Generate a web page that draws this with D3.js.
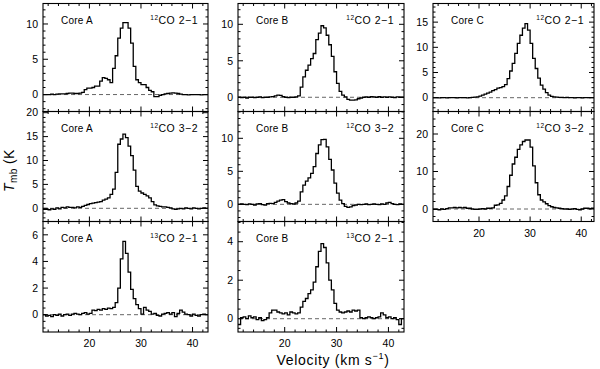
<!DOCTYPE html>
<html>
<head>
<meta charset="utf-8">
<script src="https://cdn.jsdelivr.net/npm/d3@7"></script>
<style>
  body { margin: 0; background: #fff; }
  svg { display: block; font-family: "Liberation Sans", Arial, Helvetica, sans-serif; }
</style>
</head>
<body>
<div id="chart"></div>
<script>
// channel edges (km/s), 0.5 km/s channels
const velocityEdges = [11, 11.5, 12, 12.5, 13, 13.5, 14, 14.5, 15, 15.5, 16, 16.5, 17, 17.5, 18, 18.5,
  19, 19.5, 20, 20.5, 21, 21.5, 22, 22.5, 23, 23.5, 24, 24.5, 25, 25.5, 26, 26.5,
  27, 27.5, 28, 28.5, 29, 29.5, 30, 30.5, 31, 31.5, 32, 32.5, 33, 33.5, 34, 34.5,
  35, 35.5, 36, 36.5, 37, 37.5, 38, 38.5, 39, 39.5, 40, 40.5, 41, 41.5, 42, 42.5, 43];

// Tmb (K) per channel
const coreA_12co21 = [0, 0, 0, 0.05, 0, 0.05, 0.1, 0.1,
  0.1, 0.15, 0.2, 0.2, 0.15, 0.15, 0.2, 0.3,
  0.7, 0.9, 0.9, 1.0, 1.2, 1.2, 1.9, 2.4,
  2.3, 2.1, 1.7, 3.7, 5.5, 8.0, 9.4, 10.2,
  10.2, 9.4, 7.3, 4.0, 2.1, 1.7, 1.4, 1.4,
  1.0, 0.6, 0.4, -0.3, -0.3, -0.1, 0, 0.1,
  0.15, 0.2, 0.25, 0.2, 0.15, 0.05, 0, 0,
  -0.05, 0, 0, 0, 0, -0.05, 0, 0];

const coreA_12co32 = [-0.2, -0.2, -0.3, -0.1, -0.2, 0.1, -0.1, 0.2,
  0.1, 0.3, 0.2, 0.2, 0.1, 0.3, 0.2, 0.4,
  0.6, 0.8, 1.0, 1.1, 1.2, 1.3, 1.4, 1.7,
  1.9, 2.2, 2.9, 4.0, 7.5, 13.4, 14.5, 15.5,
  14.8, 13.0, 11.0, 8.0, 4.6, 3.6, 3.2, 2.9,
  2.6, 2.2, 1.4, 0.7, 0.5, 0.4, 0.3, 0.3,
  0.2, 0.1, -0.1, -0.2, -0.1, 0, -0.1, 0.1,
  0, -0.1, 0.1, 0, -0.1, 0, 0.1, 0];

const coreA_13co21 = [0, -0.1, -0.05, -0.15, 0, -0.05, 0.05, -0.1,
  0, 0.05, -0.05, 0.05, 0.1, 0.05, 0, 0.1,
  0.15, 0.05, 0.1, 0.35, 0.3, 0.4, 0.35, 0.45,
  0.4, 0.5, 0.45, 0.55, 0.9, 2.0, 4.2, 5.5,
  4.6, 3.2, 1.9, 1.2, 0.75, 0.45, 0.05, 0.55,
  0.35, 0.25, 0.05, 0.1, -0.05, -0.1, 0.05, 0.1,
  0.15, 0.05, 0.15, -0.15, 0.1, 0.35, 0.2, 0.05,
  0, -0.1, 0.05, -0.05, -0.1, 0, 0.05, 0];

const coreB_12co21 = [0, -0.05, 0, -0.1, 0, 0, -0.05, 0,
  0.05, -0.05, 0, 0, 0.05, 0.1, 0.2, 0.3,
  0.25, 0.1, 0, -0.05, 0, 0, 0.05, 0.2,
  1.4, 2.8, 3.7, 4.4, 5.3, 6.0, 7.9, 8.8,
  9.8, 9.5, 8.5, 7.2, 5.6, 3.5, 1.9, 0.8,
  0.3, 0.05, -0.3, -0.4, -0.4, -0.35, -0.2, -0.1,
  0, 0.05, 0, 0.1, 0.05, 0, 0.1, 0,
  0.05, 0, 0.05, 0, -0.05, 0.05, 0, 0];

const coreB_12co32 = [0, 0.05, 0, -0.05, 0.05, 0, -0.1, 0.05,
  0.1, -0.05, -0.1, 0.1, 0.15, 0.1, 0.3, 0.5,
  0.65, 0.7, 0.4, 0.2, 0.1, 0.05, 0.2, 0.5,
  1.9, 2.9, 3.5, 4.0, 4.7, 5.7, 7.7, 9.0,
  9.8, 9.85, 8.7, 6.8, 5.2, 3.2, 1.7, 0.65,
  0.1, -0.3, -0.45, -0.4, -0.2, -0.1, 0, -0.05,
  0, 0.05, -0.05, 0, 0.05, 0, -0.05, 0.05,
  0, 0.2, 0.3, 0.1, 0, -0.05, 0.05, 0];

const coreB_13co21 = [-0.3, 0.05, 0.1, 0, 0.15, 0.05, 0.1, -0.05,
  0.05, -0.1, -0.05, 0.05, 0.3, 0.45, 0.45, 0.35,
  0.3, 0.25, 0.3, 0.2, 0.35, 0.3, 0.25, 0.3,
  0.6, 0.9, 1.05, 1.3, 1.5, 1.9, 2.7, 3.5,
  3.9, 3.7, 2.9, 2.0, 1.5, 0.8, 0.45, 0.35,
  0.3, 0.35, 0.4, 0.35, 0.45, 0.4, 0.45, 0.05,
  0, 0.05, 0.1, 0.05, 0, 0.05, 0.1, 0.3,
  0.2, 0.05, 0.1, 0, 0.05, -0.05, -0.3, 0];

const coreC_12co21 = [0, 0, -0.05, 0, 0, -0.05, 0, 0,
  0, -0.05, 0, 0, 0, -0.05, 0, 0.05,
  0.1, 0.15, 0.3, 0.5, 0.7, 0.9, 1.1, 1.4,
  1.6, 1.9, 2.0, 2.2, 2.6, 3.8, 5.3, 6.8,
  8.8, 10.8, 12.4, 13.8, 14.7, 13.4, 10.8, 7.8,
  5.8, 3.9, 2.5, 1.7, 1.0, 0.5, 0.25, 0.15,
  0.1, 0.05, 0.05, 0, 0.05, 0, 0, -0.05,
  0, 0, -0.05, 0, 0, 0, 0, 0];

const coreC_12co32 = [-0.1, -0.1, -0.2, 0, -0.1, 0.1, 0.3, 0.3,
  0.4, 0.3, 0.4, 0.3, 0.4, 0.2, 0.2, 0,
  -0.1, -0.1, 0, 0.1, 0, 0.2, 0.2, 0.3,
  1.0, 1.1, 1.5, 2.4, 3.5, 6.0, 9.0, 12.0,
  13.8, 15.9, 17.1, 18.0, 18.4, 18.4, 16.5, 11.5,
  7.0, 3.8, 2.4, 1.9, 1.4, 0.9, 0.6, 0.4,
  0.3, 0.2, 0.1, 0, 0, -0.1, 0, 0.1,
  -0.1, -0.2, 0, 0.2, 0.2, 0.1, 0.2, 0.1];

const xMajorTicks = [20, 30, 40];

// panel layout
const colX = [[43, 208], [238, 404], [433, 594]];
const rowY = [[3.5, 111.5], [111.5, 221.5], [221.5, 332]];
const colVel = [[11, 43], [11, 43], [11, 42.5]];

const panels = [
  {col: 0, row: 0, core: "Core A", iso: "12", trans: "CO 2\u22121", data: coreA_12co21, y: [-2.4, 12.9], major: [0, 5, 10], minor: 1},
  {col: 0, row: 1, core: "Core A", iso: "12", trans: "CO 3\u22122", data: coreA_12co32, y: [-2.76, 20.25], major: [0, 5, 10, 15, 20], minor: 1},
  {col: 0, row: 2, core: "Core A", iso: "13", trans: "CO 2\u22121", data: coreA_13co21, y: [-1.3, 7.0], major: [0, 2, 4, 6], minor: 0.5, xlab: true},
  {col: 1, row: 0, core: "Core B", iso: "12", trans: "CO 2\u22121", data: coreB_12co21, y: [-1.95, 12.85], major: [0, 5, 10], minor: 1},
  {col: 1, row: 1, core: "Core B", iso: "12", trans: "CO 3\u22122", data: coreB_12co32, y: [-2.6, 14.06], major: [0, 5, 10], minor: 1},
  {col: 1, row: 2, core: "Core B", iso: "13", trans: "CO 2\u22121", data: coreB_13co21, y: [-0.69, 5.05], major: [0, 2, 4], minor: 0.5, xlab: true},
  {col: 2, row: 0, core: "Core C", iso: "12", trans: "CO 2\u22121", data: coreC_12co21, y: [-2.74, 18.7], major: [0, 5, 10, 15], minor: 1},
  {col: 2, row: 1, core: "Core C", iso: "12", trans: "CO 3\u22122", data: coreC_12co32, y: [-3.33, 26], major: [0, 10, 20], minor: 2, xlab: true}
];

const width = 600, height = 369;
const svg = d3.select("#chart").append("svg")
  .attr("width", width)
  .attr("height", height);

const majorLen = 5, minorLen = 2.5;

panels.forEach((p, idx) => {
  const [x0, x1] = colX[p.col];
  const [y0, y1] = rowY[p.row];
  const x = d3.scaleLinear().domain(colVel[p.col]).range([x0, x1]);
  const y = d3.scaleLinear().domain(p.y).range([y1, y0]);
  const g = svg.append("g");

  const clipId = "clip" + idx;
  svg.append("clipPath").attr("id", clipId)
    .append("rect").attr("x", x0).attr("y", y0).attr("width", x1 - x0).attr("height", y1 - y0);

  // zero line (dashed)
  g.append("line")
    .attr("x1", x0).attr("x2", x1)
    .attr("y1", y(0)).attr("y2", y(0))
    .attr("stroke", "#555").attr("stroke-width", 0.9)
    .attr("stroke-dasharray", "4,3");

  // spectrum as histogram steps
  const pts = p.data.map((v, i) => [velocityEdges[i], v]);
  pts.push([velocityEdges[p.data.length], p.data[p.data.length - 1]]);
  const line = d3.line()
    .x(d => x(d[0])).y(d => y(d[1]))
    .curve(d3.curveStepAfter);
  g.append("path")
    .datum(pts)
    .attr("clip-path", `url(#${clipId})`)
    .attr("d", line)
    .attr("fill", "none")
    .attr("stroke", "#000")
    .attr("stroke-width", 1.3)
    .attr("stroke-linejoin", "miter");

  // frame
  g.append("rect")
    .attr("x", x0).attr("y", y0)
    .attr("width", x1 - x0).attr("height", y1 - y0)
    .attr("fill", "none").attr("stroke", "#000").attr("stroke-width", 1.1);

  // x ticks (top and bottom, inward)
  const xMinor = d3.range(12, 43.01, 2).filter(v => !xMajorTicks.includes(v) && v <= colVel[p.col][1]);
  const xt = xMajorTicks.map(v => ({v, len: majorLen})).concat(xMinor.map(v => ({v, len: minorLen})));
  xt.forEach(t => {
    g.append("line").attr("x1", x(t.v)).attr("x2", x(t.v))
      .attr("y1", y1).attr("y2", y1 - t.len).attr("stroke", "#000");
    g.append("line").attr("x1", x(t.v)).attr("x2", x(t.v))
      .attr("y1", y0).attr("y2", y0 + t.len).attr("stroke", "#000");
  });

  // y ticks (left and right, inward)
  const lo = Math.ceil(p.y[0] / p.minor) * p.minor;
  const yAll = d3.range(lo, p.y[1] + 1e-6, p.minor);
  yAll.forEach(v => {
    const isMajor = p.major.some(m => Math.abs(m - v) < 1e-6);
    const len = isMajor ? majorLen : minorLen;
    g.append("line").attr("x1", x0).attr("x2", x0 + len)
      .attr("y1", y(v)).attr("y2", y(v)).attr("stroke", "#000");
    g.append("line").attr("x1", x1).attr("x2", x1 - len)
      .attr("y1", y(v)).attr("y2", y(v)).attr("stroke", "#000");
  });

  // y tick labels
  p.major.forEach(v => {
    g.append("text")
      .attr("x", x0 - 5).attr("y", y(v)).attr("dy", "0.36em")
      .attr("text-anchor", "end")
      .style("font-size", "10.5px")
      .text(v);
  });

  // x tick labels
  if (p.xlab) {
    xMajorTicks.forEach(v => {
      g.append("text")
        .attr("x", x(v)).attr("y", y1 + 15)
        .attr("text-anchor", "middle")
        .style("font-size", "10.5px")
        .text(v);
    });
  }

  // labels inside panel
  g.append("text")
    .attr("x", x0 + 18).attr("y", y0 + 20)
    .style("font-size", "10px")
    .style("letter-spacing", "0.2px")
    .text(p.core);

  const tr = g.append("text")
    .attr("x", x1 - 10).attr("y", y0 + 20)
    .attr("text-anchor", "end")
    .style("font-size", "10.5px")
    .style("letter-spacing", "0.5px");
  tr.append("tspan").attr("dy", -4).style("font-size", "6.5px").text(p.iso);
  tr.append("tspan").attr("dy", 4).text(p.trans);
});

// axis titles
const xTitle = svg.append("text")
  .attr("x", 333).attr("y", 365)
  .attr("text-anchor", "middle")
  .style("font-size", "14px")
  .style("letter-spacing", "0.7px");
xTitle.append("tspan").text("Velocity (km s");
xTitle.append("tspan").attr("dy", -6).style("font-size", "9px").text("\u22121");
xTitle.append("tspan").attr("dy", 6).text(")");

const yTitle = svg.append("text")
  .attr("transform", "translate(14,192) rotate(-90)")
  .attr("text-anchor", "start")
  .style("font-size", "14px")
  .style("letter-spacing", "0.4px");
yTitle.append("tspan").style("font-style", "italic").text("T");
yTitle.append("tspan").attr("dy", 3).style("font-size", "10px").text("mb");
yTitle.append("tspan").attr("dy", -3).text(" (K");
</script>
</body>
</html>
